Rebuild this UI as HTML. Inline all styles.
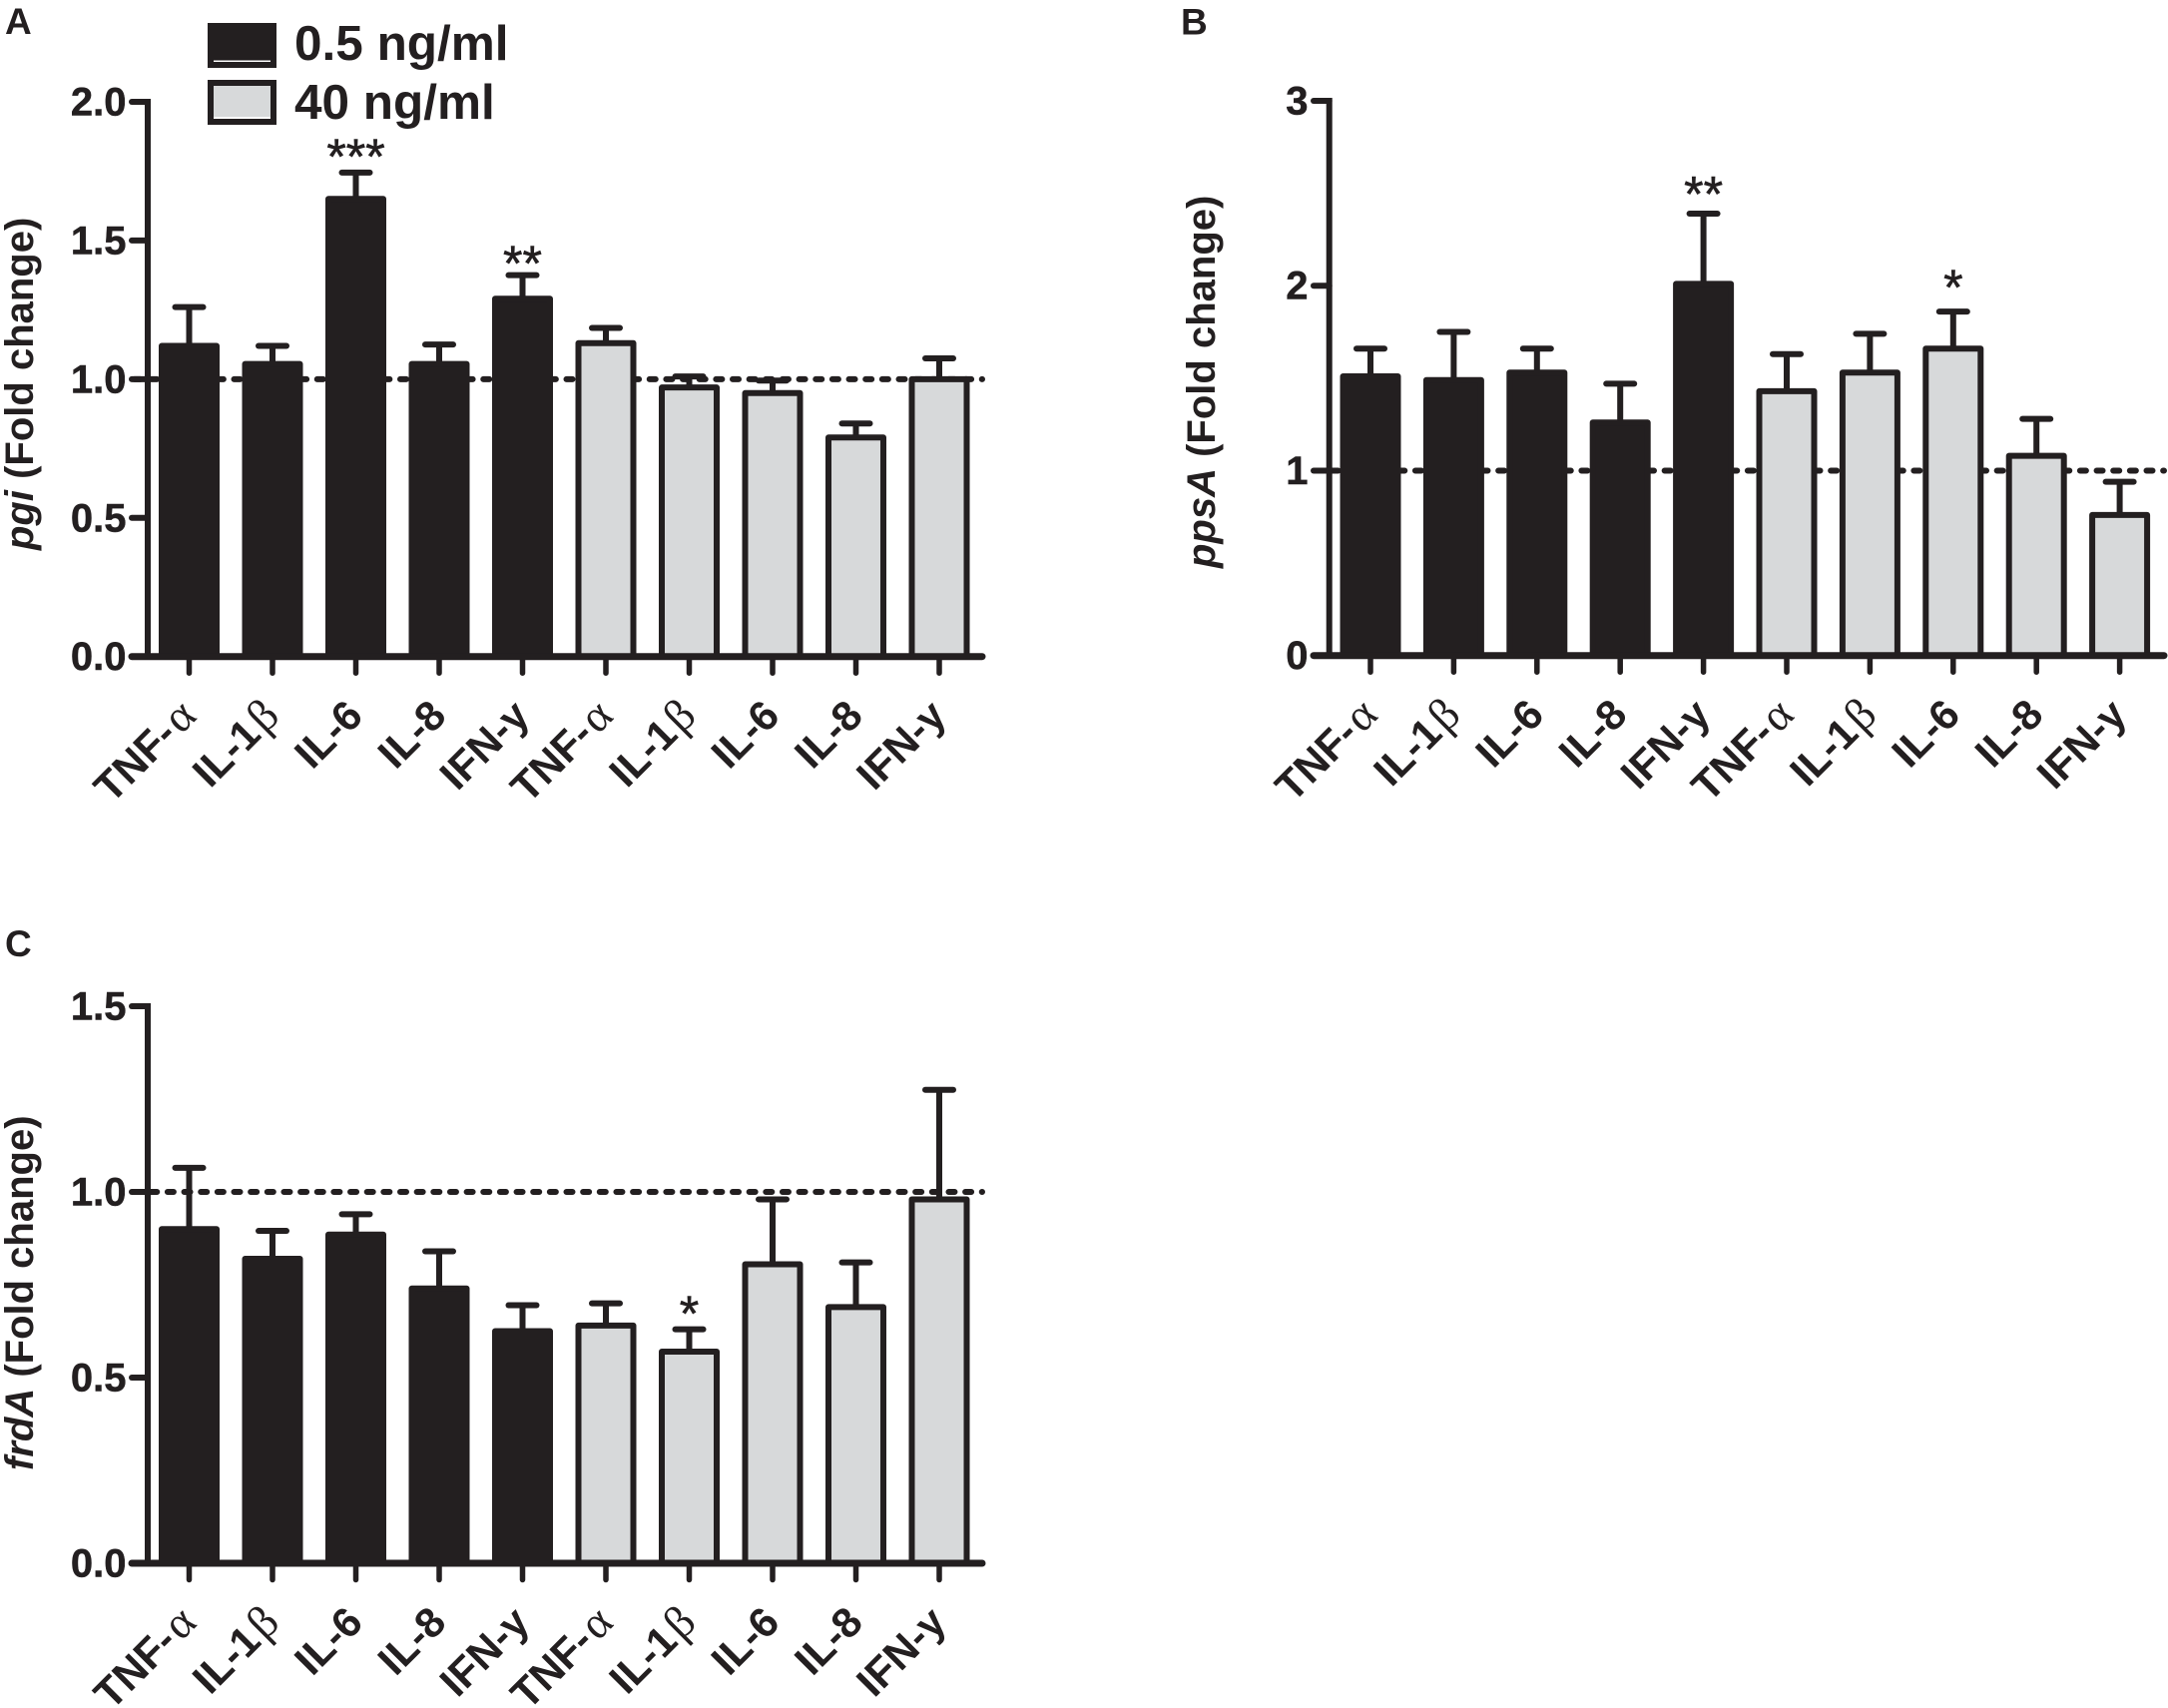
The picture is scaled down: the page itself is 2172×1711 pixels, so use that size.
<!DOCTYPE html>
<html lang="en">
<head>
<meta charset="utf-8">
<title>Fold change of pgi, ppsA and frdA by cytokine</title>
<style>
html,body{margin:0;padding:0;background:#fff;}
svg{display:block;}
text{font-family:"Liberation Sans",sans-serif;fill:#231f20;}
</style>
</head>
<body>
<svg id="figure" xmlns="http://www.w3.org/2000/svg" width="2172" height="1711" viewBox="0 0 2172 1711">
  <rect x="0" y="0" width="2172" height="1711" fill="#fff"/>
  <g>
    <g>
      <rect x="208" y="23" width="69" height="45" fill="#231f20"/>
      <rect x="214" y="60.5" width="57" height="1.5" fill="#fff"/>
      <text x="295" y="60" font-size="49.5" font-weight="700">0.5 ng/ml</text>
    </g>
    <g>
      <rect x="208" y="80" width="69" height="45" fill="#231f20"/>
      <rect x="214" y="86" width="57" height="33" fill="#fff"/>
      <rect x="214" y="86" width="57" height="31" fill="#d7d9da"/>
      <text x="295" y="119" font-size="49.5" font-weight="700">40 ng/ml</text>
    </g>
  </g>
</svg>
<script>
const categories = ['TNF-α','IL-1β','IL-6','IL-8','IFN-y','TNF-α','IL-1β','IL-6','IL-8','IFN-y'];

const pgiMeans  = [1.12,1.055,1.65,1.055,1.29,1.13,0.97,0.95,0.79,1.00];
const pgiErrors = [1.26,1.12,1.745,1.125,1.375,1.185,1.01,0.995,0.84,1.075];
const pgiTickLabels = ['0.0','0.5','1.0','1.5','2.0'];
const pgiSigLabels = ['','','***','','**','','','','',''];
const pgiSigLevels = [0,0,1.81,0,1.425,0,0,0,0,0];

const ppsAMeans  = [1.51,1.49,1.53,1.26,2.01,1.43,1.53,1.66,1.08,0.76];
const ppsAErrors = [1.66,1.75,1.66,1.47,2.39,1.63,1.74,1.86,1.28,0.94];
const ppsATickLabels = ['0','1','2','3'];
const ppsASigLabels = ['','','','','**','','','*','',''];
const ppsASigLevels = [0,0,0,0,2.505,0,0,2.0,0,0];

const frdAMeans  = [0.90,0.82,0.885,0.74,0.625,0.64,0.57,0.805,0.69,0.98];
const frdAErrors = [1.065,0.895,0.94,0.84,0.695,0.70,0.63,0.98,0.81,1.275];
const frdATickLabels = ['0.0','0.5','1.0','1.5'];
const frdASigLabels = ['','','','','','','*','','',''];
const frdASigLevels = [0,0,0,0,0,0,0.678,0,0,0];

const referenceLevel = 1;
const darkBarCount = 5;

const NS = 'http://www.w3.org/2000/svg';
const INK = '#231f20';
const GREY = '#d7d9da';
const svg = document.getElementById('figure');

function make(parent, tag, attrs) {
  const el = document.createElementNS(NS, tag);
  for (const k in attrs) el.setAttribute(k, attrs[k]);
  parent.appendChild(el);
  return el;
}

function drawPanel(p) {
  const g = make(svg, 'g', {});
  
  

  const maxVal = parseFloat(p.ticks[p.ticks.length - 1]);
  const yOf = v => p.base - (v / maxVal) * (p.base - p.top);
  const xOf = i => p.x0 + i * p.step;

  const letter = make(g, 'text', {x: p.letterX, y: p.letterY, 'font-size': 37, 'font-weight': 700});
  
  
  letter.textContent = p.letter;

  const title = make(g, 'text', {
    x: p.titleX, y: p.titleY, 'font-size': 40, 'font-weight': 700,
    transform: 'rotate(-90 ' + p.titleX + ' ' + p.titleY + ')'
  });
  
  
  const gene = make(title, 'tspan', {'font-style': 'italic'});
  gene.textContent = p.gene;
  const rest = make(title, 'tspan', {});
  rest.textContent = ' (Fold change)';

  const refLine = make(g, 'line', {
    x1: p.dashStart, x2: p.axisRight, y1: yOf(referenceLevel), y2: yOf(referenceLevel),
    stroke: INK, 'stroke-width': 6, 'stroke-dasharray': '6 10.65', 'stroke-linecap': 'round'
  });
  
  

  p.means.forEach((m, i) => {
    const cx = xOf(i);
    const yTop = yOf(p.errors[i]);
    const yBar = yOf(m);

    const stem = make(g, 'line', {x1: cx, x2: cx, y1: yTop, y2: yBar + 4, stroke: INK, 'stroke-width': 6});
    
    

    const cap = make(g, 'line', {x1: cx - 14, x2: cx + 14, y1: yTop, y2: yTop, stroke: INK, 'stroke-width': 6, 'stroke-linecap': 'round'});
    
    

    const bar = make(g, 'rect', {
      x: cx - 27.5, y: yBar, width: 55, height: Math.max(0, p.base - yBar),
      fill: i < darkBarCount ? INK : GREY, stroke: INK, 'stroke-width': 6, 'stroke-linejoin': 'round'
    });
    
    

    if (p.sigLabels[i]) {
      const sig = make(g, 'text', {x: cx, y: yOf(p.sigLevels[i]) + 19, 'font-size': 50, 'text-anchor': 'middle', stroke: INK, 'stroke-width': 0.6});
      
      
      sig.textContent = p.sigLabels[i];
    }

    const tick = make(g, 'line', {x1: cx, x2: cx, y1: p.base, y2: p.base + 16.5, stroke: INK, 'stroke-width': 5.5, 'stroke-linecap': 'round'});
    
    

    const lx = cx + 9;
    const ly = p.base + 61.5;
    const label = make(g, 'text', {
      x: lx, y: ly, 'font-size': 42, 'font-weight': 700, 'text-anchor': 'end',
      transform: 'rotate(-45 ' + lx + ' ' + ly + ')'
    });
    
    
    const match = categories[i].match(/^(.*?)([αβ])$/);
    if (match) {
      const plain = make(label, 'tspan', {});
      plain.textContent = match[1];
      const greek = make(label, 'tspan', {'font-family': '"Liberation Serif",serif', 'font-weight': 400, 'font-size': 46, dx: 3});
      greek.textContent = match[2];
    } else {
      label.textContent = categories[i];
    }
  });

  const yAxis = make(g, 'line', {x1: p.axisX, x2: p.axisX, y1: p.top - 3, y2: p.base, stroke: INK, 'stroke-width': 6});
  
  

  const xAxis = make(g, 'line', {x1: p.axisLeft, x2: p.axisRight, y1: p.base, y2: p.base, stroke: INK, 'stroke-width': 7, 'stroke-linecap': 'round'});
  
  

  p.ticks.forEach(t => {
    const v = parseFloat(t);
    const y = yOf(v);
    if (v > 0) {
      const tick = make(g, 'line', {x1: p.axisLeft, x2: p.axisX, y1: y, y2: y, stroke: INK, 'stroke-width': 6, 'stroke-linecap': 'round'});
      
      
    }
    const label = make(g, 'text', {x: p.tickTextX, y: y + 13.5, 'font-size': 40, 'font-weight': 700, 'text-anchor': 'end', stroke: INK, 'stroke-width': 0.5});
    
    
    label.textContent = t;
  });
}

drawPanel({
  letter: 'A', letterX: 5, letterY: 34, gene: 'pgi',
  means: pgiMeans, errors: pgiErrors, ticks: pgiTickLabels, sigLabels: pgiSigLabels, sigLevels: pgiSigLevels,
  top: 102, base: 657.7, axisX: 148, axisLeft: 132, axisRight: 984, dashStart: 134.6,
  x0: 189.5, step: 83.5, tickTextX: 126.5, titleX: 33, titleY: 551
});
drawPanel({
  letter: 'B', letterX: 1183, letterY: 34.5, gene: 'ppsA',
  means: ppsAMeans, errors: ppsAErrors, ticks: ppsATickLabels, sigLabels: ppsASigLabels, sigLevels: ppsASigLevels,
  top: 101, base: 656.7, axisX: 1331.7, axisLeft: 1316, axisRight: 2168, dashStart: 1318,
  x0: 1373, step: 83.4, tickTextX: 1310.5, titleX: 1217, titleY: 569
});
drawPanel({
  letter: 'C', letterX: 5, letterY: 958, gene: 'frdA',
  means: frdAMeans, errors: frdAErrors, ticks: frdATickLabels, sigLabels: frdASigLabels, sigLevels: frdASigLevels,
  top: 1008, base: 1566, axisX: 148, axisLeft: 132, axisRight: 984, dashStart: 134.6,
  x0: 189.5, step: 83.5, tickTextX: 126.5, titleX: 33, titleY: 1473
});
</script>
</body>
</html>
